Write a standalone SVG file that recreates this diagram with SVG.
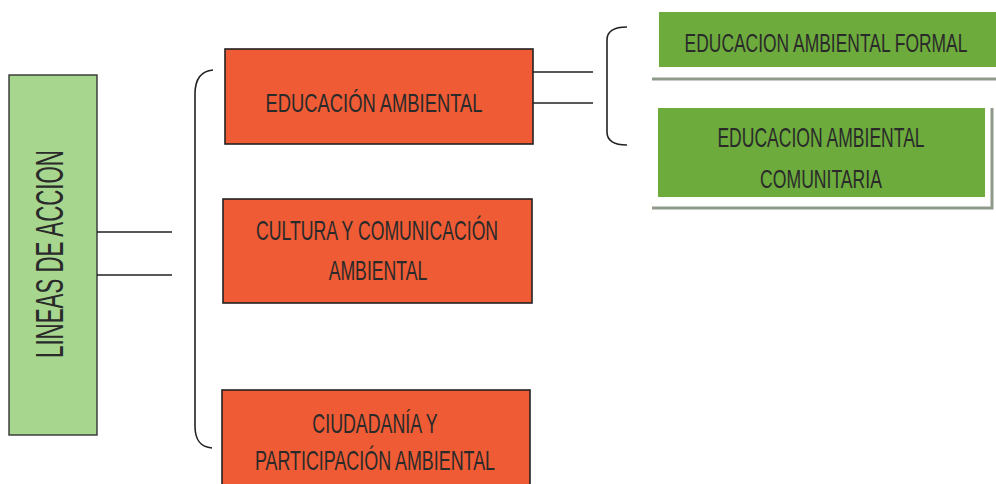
<svg xmlns="http://www.w3.org/2000/svg" width="996" height="484" viewBox="0 0 996 484">
<style>
.t{font-family:"Liberation Sans","DejaVu Sans",sans-serif;fill:#2a2a2a;text-anchor:middle}
.org{fill:#ef5b34;stroke:#222;stroke-width:1.6}
.grn{fill:#6cab3c}
.lg{fill:#a7d68f;stroke:#333;stroke-width:1.4}
.ln{stroke:#222;stroke-width:1.6;fill:none}
.sh{stroke:#8f9a8c;stroke-width:3;fill:none}
</style>
<rect width="996" height="484" fill="#ffffff"/>
<g id="lineas">
<rect class="lg" x="9" y="75" width="88" height="360"/>
<text class="t" font-size="38" transform="translate(63,254) rotate(-90) scale(0.7,1)" textLength="297" lengthAdjust="spacingAndGlyphs">LINEAS DE ACCION</text>
</g>
<g id="educacion">
<rect class="org" x="225" y="49" width="308" height="95"/>
<text class="t" font-size="26" transform="translate(374,112) scale(0.7,1)" textLength="310" lengthAdjust="spacingAndGlyphs">EDUCACIÓN AMBIENTAL</text>
</g>
<g id="cultura">
<rect class="org" x="223" y="199" width="309" height="104"/>
<text class="t" font-size="27" transform="translate(377,240) scale(0.7,1)" textLength="346" lengthAdjust="spacingAndGlyphs">CULTURA Y COMUNICACIÓN</text>
<text class="t" font-size="27" transform="translate(378,280) scale(0.7,1)" textLength="141" lengthAdjust="spacingAndGlyphs">AMBIENTAL</text>
</g>
<g id="ciudadania">
<rect class="org" x="222" y="390" width="308" height="100"/>
<text class="t" font-size="27" transform="translate(375,433) scale(0.7,1)" textLength="179" lengthAdjust="spacingAndGlyphs">CIUDADANÍA Y</text>
<text class="t" font-size="27" transform="translate(375,470) scale(0.7,1)" textLength="343" lengthAdjust="spacingAndGlyphs">PARTICIPACIÓN AMBIENTAL</text>
</g>
<g id="formal">
<rect class="grn" x="659" y="12" width="340" height="55"/>
<path class="sh" d="M652,79 L996,79"/>
<text class="t" font-size="26" transform="translate(826,52) scale(0.7,1)" textLength="404" lengthAdjust="spacingAndGlyphs">EDUCACION AMBIENTAL FORMAL</text>
</g>
<g id="comunitaria">
<rect class="grn" x="658" y="108" width="327" height="89"/>
<path class="sh" d="M652,208 L992,208 L992,108"/>
<text class="t" font-size="27" transform="translate(821,147) scale(0.7,1)" textLength="296" lengthAdjust="spacingAndGlyphs">EDUCACION AMBIENTAL</text>
<text class="t" font-size="25" transform="translate(821,188) scale(0.7,1)" textLength="174" lengthAdjust="spacingAndGlyphs">COMUNITARIA</text>
</g>
<g id="connectors">
<path class="ln" d="M97,232 L172,232 M97,275 L172,275"/>
<path class="ln" d="M213,70 C201,71 195,79 195,94 L195,426 C195,441 201,447 212,448"/>
<path class="ln" d="M533,72 L593,72 M533,103 L593,103"/>
<path class="ln" d="M627,27 C615,27 607,31 607,40 L607,132 C607,141 615,145 627,145"/>
</g>
</svg>
